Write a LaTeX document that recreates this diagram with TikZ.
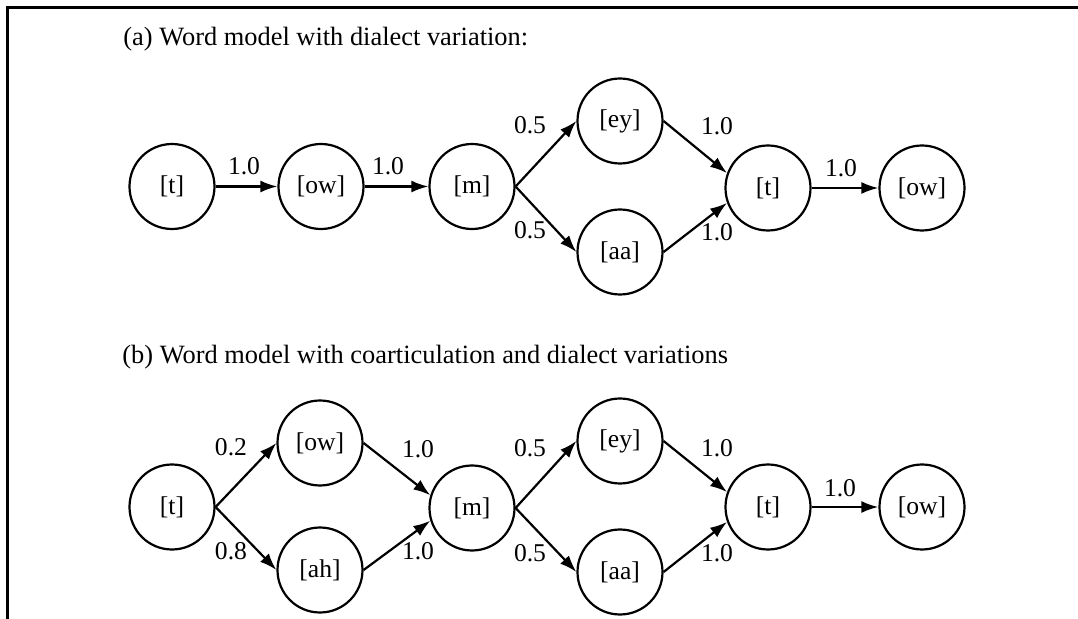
\documentclass[tikz,border=0pt]{standalone}
\usepackage{fontspec}
\setmainfont{Liberation Serif}
\usetikzlibrary{arrows.meta}
\tikzset{
  >={Latex[length=8.5bp,width=6bp]},
  st/.style={circle,draw,line width=1.1bp,minimum size=42.5bp,inner sep=0pt},
  trans/.style={->,line width=1.1bp},
  lab/.style={inner sep=0pt},
  frameline/.style={line width=1.5bp},
  ttl/.style={anchor=base west,inner sep=0pt,font=\fontsize{13.2bp}{16bp}\selectfont}
}
\begin{document}
\begin{tikzpicture}[x=0.5bp,y=0.5bp,font=\fontsize{12.8bp}{15bp}\selectfont]
    \useasboundingbox (0,0) rectangle (1078,-619);
    \draw[frameline] (7.5,-619) -- (7.5,-7.5) -- (1078,-7.5);
    \node[ttl] (ttla) at (123,-45.5) {(a) Word model with dialect variation:};
    \node[st] (ta) at (172,-186.5) {[t]};
    \node[st] (owa) at (321,-186.5) {[ow]};
    \node[st] (ma) at (472,-186.5) {[m]};
    \node[st] (eya) at (620,-121) {[ey]};
    \node[st] (aaa) at (620,-252) {[aa]};
    \node[st] (t2a) at (768,-188) {[t]};
    \node[st] (ow2a) at (922,-188) {[ow]};
    \draw[trans] (ta.east) -- (owa.west);
    \draw[trans] (owa.east) -- (ma.west);
    \draw[trans] (ma.east) -- (eya.west);
    \draw[trans] (ma.east) -- (aaa.west);
    \draw[trans] (eya.east) -- (t2a.160);
    \draw[trans] (aaa.east) -- (t2a.200);
    \draw[trans] (t2a.east) -- (ow2a.west);
    \node[lab] (la1) at (244,-166) {1.0};
    \node[lab] (la2) at (388,-166) {1.0};
    \node[lab] (la3) at (530,-125) {0.5};
    \node[lab] (la4) at (530,-230) {0.5};
    \node[lab] (la5) at (717,-126) {1.0};
    \node[lab] (la6) at (717,-232) {1.0};
    \node[lab] (la7) at (841,-168) {1.0};
    \node[ttl] (ttlb) at (122,-364) {(b) Word model with coarticulation and dialect variations};
    \node[st] (tb) at (172,-507) {[t]};
    \node[st] (owb) at (320,-443) {[ow]};
    \node[st] (ahb) at (320,-570) {[ah]};
    \node[st] (mb) at (472,-508) {[m]};
    \node[st] (eyb) at (620,-441) {[ey]};
    \node[st] (aab) at (620,-572) {[aa]};
    \node[st] (t2b) at (768,-507) {[t]};
    \node[st] (ow2b) at (922,-507) {[ow]};
    \draw[trans] (tb.east) -- (owb.west);
    \draw[trans] (tb.east) -- (ahb.west);
    \draw[trans] (owb.east) -- (mb.163);
    \draw[trans] (ahb.east) -- (mb.197);
    \draw[trans] (mb.east) -- (eyb.west);
    \draw[trans] (mb.east) -- (aab.west);
    \draw[trans] (eyb.east) -- (t2b.160);
    \draw[trans] (aab.east) -- (t2b.200);
    \draw[trans] (t2b.east) -- (ow2b.west);
    \node[lab] (lb1) at (231,-447) {0.2};
    \node[lab] (lb2) at (231,-551) {0.8};
    \node[lab] (lb3) at (418,-449) {1.0};
    \node[lab] (lb4) at (418,-551) {1.0};
    \node[lab] (lb5) at (530,-448) {0.5};
    \node[lab] (lb6) at (530,-553) {0.5};
    \node[lab] (lb7) at (717,-448) {1.0};
    \node[lab] (lb8) at (717,-553) {1.0};
    \node[lab] (lb9) at (840,-488) {1.0};
\end{tikzpicture}
\end{document}
